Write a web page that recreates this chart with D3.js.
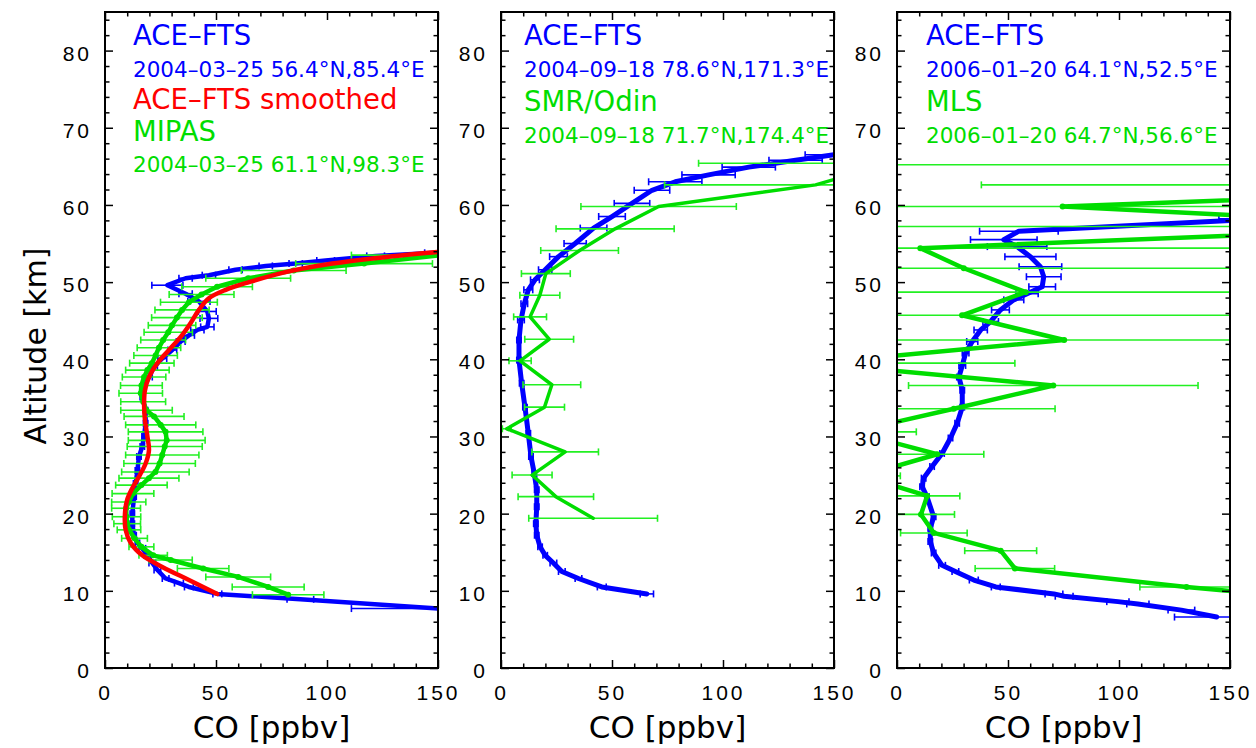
<!DOCTYPE html>
<html><head><meta charset="utf-8">
<script src="https://cdn.jsdelivr.net/npm/d3@7"></script>
<style>body{margin:0;background:#fff}svg{display:block}</style>
</head><body>
<svg id="c" width="1256" height="748"></svg>
<script>
// ---------------- DATA ----------------
// Panel 1: ACE-FTS (blue)
const p1AceAlt = [7.7, 8.9, 9.6, 10.5, 11.0, 11.6, 12.7, 13.6, 14.6, 15.5, 16.2, 17.2, 18.7, 20.0, 22.2, 23.9, 25.6, 27.4, 28.7, 30.0, 31.7, 33.4, 35.1, 36.4, 37.7, 39.0, 40.1, 41.2, 42.3, 43.1, 43.8, 44.2, 45.3, 46.2, 47.5, 48.5, 49.6, 50.5, 50.9, 51.6, 52.1, 52.4, 52.8, 53.4, 53.8];
const p1AceCO  = [151, 88, 50.6, 37.8, 33.3, 27.3, 23.6, 21.3, 19.1, 16.8, 14.6, 13.1, 12.3, 12.3, 13.1, 13.8, 14.6, 15.3, 16.8, 17.6, 18.3, 18.3, 16.8, 17.6, 19.8, 22.1, 25.8, 30.3, 34.1, 37.8, 41.6, 46.1, 46.8, 46.1, 42.3, 36.3, 28.1, 36.3, 46.8, 58.8, 72.4, 85.9, 99.4, 121.9, 149];
const p1AceErr = [40, 6, 2, 2, 2, 1.5, 1.5, 1.5, 1.5, 1.5, 1, 1, 1, 1, 1, 1, 1, 1, 1, 1, 1, 1, 1, 1, 1.5, 1.5, 2, 2, 2, 2.5, 3, 3, 4, 4, 5, 3, 7, 3, 3, 3, 3, 3, 4, 4, 5];
// Panel 1: ACE-FTS smoothed (red)
const p1SmAlt = [9.6, 11.4, 13.1, 14.6, 16.2, 17.9, 20.0, 21.8, 23.3, 24.8, 26.5, 28.2, 30.0, 32.1, 34.3, 36.0, 37.7, 39.5, 41.2, 42.9, 44.7, 46.4, 47.9, 49.0, 50.0, 51.2, 52.4, 53.2, 53.9];
const p1SmCO  = [50.6, 37.8, 25.8, 16.8, 11.6, 9.3, 9.0, 10.0, 12.3, 15.3, 18.3, 19.8, 19.1, 18.0, 17.6, 18.0, 19.8, 23.6, 28.8, 34.1, 38.6, 42.3, 46.8, 54.4, 64.9, 79.9, 102.4, 124.9, 149.7];
// Panel 1: MIPAS (green)
const p1MipAlt = [9.5, 10.5, 11.8, 12.9, 14.0, 14.6, 15.7, 16.8, 17.9, 18.7, 19.6, 20.7, 21.5, 22.6, 23.7, 24.6, 25.4, 26.5, 27.6, 28.7, 29.5, 30.6, 31.5, 32.6, 33.4, 34.5, 35.6, 36.6, 37.7, 38.6, 39.5, 40.5, 41.5, 42.5, 43.5, 44.4, 45.4, 46.4, 47.4, 48.4, 49.4, 50.5, 51.5, 52.4, 53.5];
const p1MipCO  = [82.5, 73.5, 60, 44.2, 29.6, 21.7, 16.4, 13.3, 10.8, 10.0, 9.7, 9.5, 10.7, 12.6, 16.4, 19.8, 22.7, 24.6, 25.8, 26.9, 27.8, 27.3, 25.1, 22.1, 18.7, 17.2, 16.1, 16.4, 17.6, 19.1, 21.1, 22.8, 24.3, 26.2, 28.5, 30.2, 32.4, 34.7, 37.8, 43.5, 50.5, 64.5, 85, 116.7, 152];
const p1MipErr = [16.1, 16.2, 14.6, 11.6, 9.7, 6.4, 5.6, 5.8, 5.3, 6, 6.4, 6.5, 7.7, 9.4, 11.6, 13.5, 15.2, 16.1, 16.5, 16.9, 17.3, 16.8, 15.8, 13.5, 11.6, 10.1, 9.8, 9.4, 9.8, 9.8, 10, 9.8, 9.8, 10.1, 10.9, 10.7, 11.4, 12.2, 12.8, 14.6, 15.9, 19.1, 23.6, 30.8, 41];

// Panel 2: ACE-FTS (blue)
const p2AceAlt = [9.6, 10.5, 11.6, 12.5, 13.6, 14.6, 15.7, 17.2, 18.7, 20.9, 23.1, 25.2, 27.4, 30.4, 33.8, 36.9, 39.9, 42.5, 45.1, 47.2, 49.0, 50.3, 51.6, 53.3, 55.0, 57.0, 58.5, 60.2, 61.9, 63.0, 63.9, 64.9, 65.8, 66.5];
const p2AceCO  = [65.7, 45.4, 34.9, 27.4, 23.6, 19.9, 17.6, 16.1, 15.7, 16.1, 16.1, 15.0, 13.5, 12.3, 10.8, 9.3, 8.1, 8.1, 9.0, 10.5, 12.3, 15.3, 19.9, 25.9, 33.4, 41.7, 50, 59, 68, 78.5, 93.5, 111.6, 132.7, 150];
const p2AceErr = [3, 2, 1.5, 1.5, 1.5, 1, 1, 1, 1, 1, 1, 1, 1, 1, 1, 1, 1, 1, 1.5, 1.5, 2, 2, 3, 4, 5, 6, 6, 8, 8, 12, 12, 12, 12, 13];
// Panel 2: SMR/Odin (green)
const p2SmrAlt = [19.4, 22.2, 25.0, 28.0, 31.0, 33.8, 36.7, 39.8, 42.6, 45.5, 48.3, 51.1, 54.1, 56.9, 59.8, 62.6, 65.4];
const p2SmrCO  = [41.5, 24.7, 14, 28.9, 2.6, 19.6, 22.9, 8.6, 21.7, 13.1, 17.5, 20.2, 35.4, 51.4, 71, 141.7, 175];
const p2SmrErr = [29, 17, 9, 15, 2, 9, 13, 5, 11, 7.4, 9, 11, 17.5, 26.6, 35, 68, 86];

// Panel 3: ACE-FTS (blue)
const p3AceAlt = [6.6, 7.5, 8.3, 8.6, 9.3, 9.6, 10.5, 11.4, 12.5, 13.3, 14.9, 16.4, 18.1, 19.6, 22.2, 23.5, 24.6, 26.1, 27.8, 29.8, 31.7, 33.8, 36.0, 37.7, 39.2, 40.8, 42.3, 43.8, 44.9, 46.4, 47.7, 48.5, 49.4, 50.7, 52.0, 53.3, 54.6, 55.5, 56.6, 58.2];
const p3AceCO  = [144, 128.1, 108.5, 99.5, 75.3, 70.7, 44.5, 34.6, 26.3, 20.3, 16.5, 15.0, 15.0, 16.5, 13.5, 11.3, 12.0, 15.8, 20.3, 24.1, 27.1, 29.4, 29.4, 27.9, 29.4, 30.9, 33.9, 37.7, 42.2, 46.6, 52.6, 58.6, 65.4, 66.1, 64.6, 60.1, 54.1, 48.1, 54.9, 165];
const p3AceErr = [19, 6, 5, 5, 4, 4, 2, 2, 1.5, 1.5, 1, 1, 1, 1, 1, 1, 1, 1, 1, 1, 1, 1, 1, 1, 1.5, 1.5, 2.5, 3, 3.5, 4, 4.5, 5, 6, 7.8, 9.6, 11.5, 13.4, 15, 17.7, 20];
// Panel 3: MLS (green)
const p3MlsAlt = [7.9, 10.5, 12.9, 15.2, 17.5, 19.9, 22.3, 24.9, 27.7, 30.6, 33.6, 36.6, 39.5, 42.5, 45.7, 48.7, 51.8, 54.4, 57.2, 59.8, 62.6, 65.2];
const p3MlsCO  = [230, 130.4, 53.1, 46.7, 16.6, 10.8, 13.6, -15.7, 18.1, -19.6, 25.6, 70.4, -37.6, 75.3, 29.3, 58, 30.1, 10.5, 253, 74.6, 338, 300];
const p3MlsErr = [25, 21, 17.9, 16.2, 15, 15.1, 14.7, 17.2, 21, 28.3, 45.6, 65.2, 90.7, 300, 300, 300, 300, 300, 300, 300, 300, 300];

// Axis ticks / labels
const xMajorTicks = [0, 50, 100, 150];
const xMinorTicks = [10, 20, 30, 40, 60, 70, 80, 90, 110, 120, 130, 140];
const yMajorTicks = [0, 10, 20, 30, 40, 50, 60, 70, 80];
const yMinorTicks = [2, 4, 6, 8, 12, 14, 16, 18, 22, 24, 26, 28, 32, 34, 36, 38, 42, 44, 46, 48, 52, 54, 56, 58, 62, 64, 66, 68, 72, 74, 76, 78, 82, 84];
const xAxisTitle = "CO [ppbv]";
const yAxisTitle = "Altitude [km]";

// Legend texts
const legend1 = [["ACE–FTS", "big", "blue"], ["2004–03–25 56.4°N,85.4°E", "small", "blue"], ["ACE–FTS smoothed", "big", "red"], ["MIPAS", "big", "green"], ["2004–03–25 61.1°N,98.3°E", "small", "green"]];
const legend2 = [["ACE–FTS", "big", "blue"], ["2004–09–18 78.6°N,171.3°E", "small", "blue"], ["SMR/Odin", "big", "green"], ["2004–09–18 71.7°N,174.4°E", "small", "green"]];
const legend3 = [["ACE–FTS", "big", "blue"], ["2006–01–20 64.1°N,52.5°E", "small", "blue"], ["MLS", "big", "green"], ["2006–01–20 64.7°N,56.6°E", "small", "green"]];

// ---------------- DRAWING ----------------
const COL = {blue: "#0000ff", red: "#ff0000", green: "#00dd00", greenBar: "#22f022"};
const FONT = "'DejaVu Sans', sans-serif";
const svg = d3.select("#c");
const PT = 12, PB = 668, PW = 333;

const zip = (a, c, e) => a.map((v, i) => ({alt: v, co: c[i], err: e ? e[i] : 0}));

const panels = [
  {left: 105, textX: 133, legendY: [45, 77, 109, 141, 172], legend: legend1,
   series: [
     {data: zip(p1AceAlt, p1AceCO, p1AceErr), color: COL.blue, bar: COL.blue, w: 4.5, err: true},
     {data: zip(p1MipAlt, p1MipCO, p1MipErr), color: COL.green, bar: COL.greenBar, w: 4.5, err: true, dots: true},
     {data: zip(p1SmAlt, p1SmCO), color: COL.red, w: 4.5, err: false, smooth: true}
   ]},
  {left: 501, textX: 524, legendY: [45, 77, 111, 143], legend: legend2,
   series: [
     {data: zip(p2AceAlt, p2AceCO, p2AceErr), color: COL.blue, bar: COL.blue, w: 5, err: true},
     {data: zip(p2SmrAlt, p2SmrCO, p2SmrErr), color: COL.green, bar: COL.greenBar, w: 3.5, err: true}
   ]},
  {left: 897, textX: 926, legendY: [45, 77, 111, 143], legend: legend3,
   series: [
     {data: zip(p3AceAlt, p3AceCO, p3AceErr), color: COL.blue, bar: COL.blue, w: 5, err: true},
     {data: zip(p3MlsAlt, p3MlsCO, p3MlsErr), color: COL.green, bar: COL.greenBar, w: 4.5, err: true, dots: true}
   ]}
];

panels.forEach((p, pi) => {
  const x = d3.scaleLinear().domain([0, 150]).range([p.left, p.left + PW]);
  const y = d3.scaleLinear().domain([0, 85]).range([PB, PT]);
  const clipId = "clip" + pi;
  svg.append("clipPath").attr("id", clipId).append("rect")
    .attr("x", p.left).attr("y", PT).attr("width", PW).attr("height", PB - PT);
  const g = svg.append("g").attr("clip-path", `url(#${clipId})`);

  p.series.forEach(s => {
    if (s.err) {
      const eb = g.append("g").attr("stroke", s.bar).attr("stroke-width", 1.6).attr("fill", "none");
      s.data.forEach(d => {
        const yy = y(d.alt), x1 = x(d.co - d.err), x2 = x(d.co + d.err);
        eb.append("line").attr("x1", x1).attr("x2", x2).attr("y1", yy).attr("y2", yy);
        eb.append("line").attr("x1", x1).attr("x2", x1).attr("y1", yy - 3.5).attr("y2", yy + 3.5);
        eb.append("line").attr("x1", x2).attr("x2", x2).attr("y1", yy - 3.5).attr("y2", yy + 3.5);
      });
    }
    const line = d3.line().x(d => x(d.co)).y(d => y(d.alt));
    if (s.smooth) line.curve(d3.curveCatmullRom.alpha(0.5));
    g.append("path").datum(s.data).attr("d", line)
      .attr("fill", "none").attr("stroke", s.color).attr("stroke-width", s.w)
      .attr("stroke-linejoin", "round").attr("stroke-linecap", "round");
    if (s.dots) {
      g.append("g").selectAll("circle").data(s.data).join("circle")
        .attr("cx", d => x(d.co)).attr("cy", d => y(d.alt)).attr("r", 3).attr("fill", s.color);
    }
  });

  // frame & axes
  const axG = svg.append("g").attr("font-family", FONT);
  const mk = (axis, tx, ty) => axG.append("g").attr("transform", `translate(${tx},${ty})`).call(axis);
  mk(d3.axisBottom(x).tickValues(xMajorTicks).tickSize(-8).tickPadding(17).tickFormat(d3.format("d")), 0, PB);
  mk(d3.axisBottom(x).tickValues(xMinorTicks).tickSize(-4.5).tickFormat(""), 0, PB);
  mk(d3.axisTop(x).tickValues(xMajorTicks).tickSize(-8).tickFormat(""), 0, PT);
  mk(d3.axisTop(x).tickValues(xMinorTicks).tickSize(-4.5).tickFormat(""), 0, PT);
  const lMaj = mk(d3.axisLeft(y).tickValues(yMajorTicks).tickSize(-8).tickPadding(13).tickFormat(d3.format("d")), p.left, 0);
  mk(d3.axisLeft(y).tickValues(yMinorTicks).tickSize(-4.5).tickFormat(""), p.left, 0);
  mk(d3.axisRight(y).tickValues(yMajorTicks).tickSize(-8).tickFormat(""), p.left + PW, 0);
  mk(d3.axisRight(y).tickValues(yMinorTicks).tickSize(-4.5).tickFormat(""), p.left + PW, 0);
  axG.selectAll(".domain").remove();
  axG.selectAll(".tick line").attr("stroke", "#000").attr("stroke-width", 1.5);
  axG.selectAll("text").attr("font-size", 21).attr("fill", "#000").attr("letter-spacing", 3);
  lMaj.selectAll("text").attr("dy", "0.45em");
  axG.append("rect").attr("x", p.left).attr("y", PT).attr("width", PW).attr("height", PB - PT)
    .attr("fill", "none").attr("stroke", "#000").attr("stroke-width", 2);

  // x title
  svg.append("text").attr("x", p.left + PW / 2).attr("y", 738).attr("text-anchor", "middle")
    .attr("font-family", FONT).attr("font-size", 31).text(xAxisTitle);

  // legend
  p.legend.forEach((l, i) => {
    svg.append("text").attr("x", p.textX).attr("y", p.legendY[i])
      .attr("font-family", FONT).attr("font-size", l[1] === "big" ? 27.5 : 21.5)
      .attr("fill", COL[l[2]]).text(l[0]);
  });
});

svg.append("text").attr("transform", "translate(46,346) rotate(-90)").attr("text-anchor", "middle")
  .attr("font-family", FONT).attr("font-size", 30).text(yAxisTitle);
</script>
</body></html>
